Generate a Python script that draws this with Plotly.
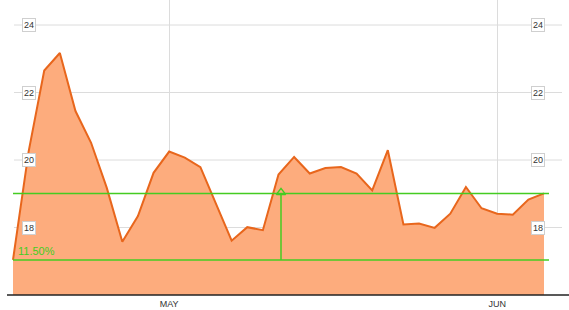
import plotly.graph_objects as go

# ---- data ----
values = [17.04, 20.25, 22.65, 23.17, 21.45, 20.51, 19.18, 17.58, 18.34, 19.62,
          20.25, 20.07, 19.79, 18.72, 17.61, 18.01, 17.92, 19.57, 20.09, 19.60,
          19.76, 19.79, 19.60, 19.10, 20.29, 18.09, 18.12, 17.99, 18.41, 19.20,
          18.57, 18.41, 18.38, 18.83, 19.01]
x_idx = list(range(len(values)))
month_tick_idx = [10, 31]
month_tick_text = ["MAY", "JUN"]
y_ticks = [18, 20, 22, 24]
pct_label = "11.50%"

W, H = 569, 310
ORANGE_LINE = "rgb(232,102,28)"
ORANGE_FILL = "rgb(253,172,125)"
GREEN = "rgb(68,204,34)"
FONT = "Liberation Sans, Arial, sans-serif"

start_v = values[0]
end_v = values[-1]
x_last = x_idx[-1]
green_end = x_last + 0.32
mid_x = green_end / 2

fig = go.Figure()

fig.add_trace(go.Scatter(
    x=x_idx, y=values, mode="lines",
    line=dict(color=ORANGE_LINE, width=2),
    fill="tozeroy", fillcolor=ORANGE_FILL,
    hoverinfo="skip", showlegend=False))

# green range lines
for v in (start_v, end_v):
    fig.add_trace(go.Scatter(
        x=[0, green_end], y=[v, v], mode="lines",
        line=dict(color=GREEN, width=1.5), hoverinfo="skip", showlegend=False))

# vertical arrow
fig.add_trace(go.Scatter(
    x=[mid_x, mid_x], y=[start_v, end_v], mode="lines",
    line=dict(color=GREEN, width=1.5), hoverinfo="skip", showlegend=False))
fig.add_trace(go.Scatter(
    x=[mid_x], y=[end_v + 0.03], mode="markers",
    marker=dict(symbol="triangle-up-open", size=8, color=GREEN, line=dict(width=1.5, color=GREEN)),
    hoverinfo="skip", showlegend=False))

shapes = []
# horizontal gridlines
for t in y_ticks:
    shapes.append(dict(type="line", xref="paper", yref="y",
                       x0=14 / W, x1=562 / W, y0=t, y1=t,
                       line=dict(color="#dcdcdc", width=1), layer="below"))
# baseline
shapes.append(dict(type="line", xref="paper", yref="paper",
                   x0=7 / W, x1=1, y0=0, y1=0,
                   line=dict(color="#222", width=1.5)))

annotations = []
for t in y_ticks:
    for px in (28.5, 537.5):
        annotations.append(dict(
            x=px / W, xref="paper", xanchor="center", y=t, yref="y", yanchor="middle",
            text=str(t), showarrow=False,
            font=dict(family=FONT, size=9, color="#333"),
            bgcolor="white", bordercolor="#cfcfcf", borderwidth=1, borderpad=1))

annotations.append(dict(
    x=16 / W, xref="paper", xanchor="left", y=start_v + 0.27, yref="y", yanchor="middle",
    text=pct_label, showarrow=False,
    font=dict(family=FONT, size=11, color=GREEN)))

px_per_x = 531 / x_last
fig.update_layout(
    width=W, height=H,
    margin=dict(l=0, r=0, t=0, b=15),
    paper_bgcolor="white", plot_bgcolor="white",
    xaxis=dict(range=[-13 / px_per_x, x_last + 25 / px_per_x],
               tickvals=month_tick_idx, ticktext=month_tick_text,
               showgrid=True, gridcolor="#dcdcdc", gridwidth=1,
               zeroline=False, showline=False, ticks="",
               tickfont=dict(family=FONT, size=9, color="#333"),
               ticklabelstandoff=2),
    yaxis=dict(range=[16, 16 + 295 / 33.75], showgrid=False, zeroline=False,
               showticklabels=False, showline=False),
    shapes=shapes, annotations=annotations,
)

fig.write_html("out.html")
